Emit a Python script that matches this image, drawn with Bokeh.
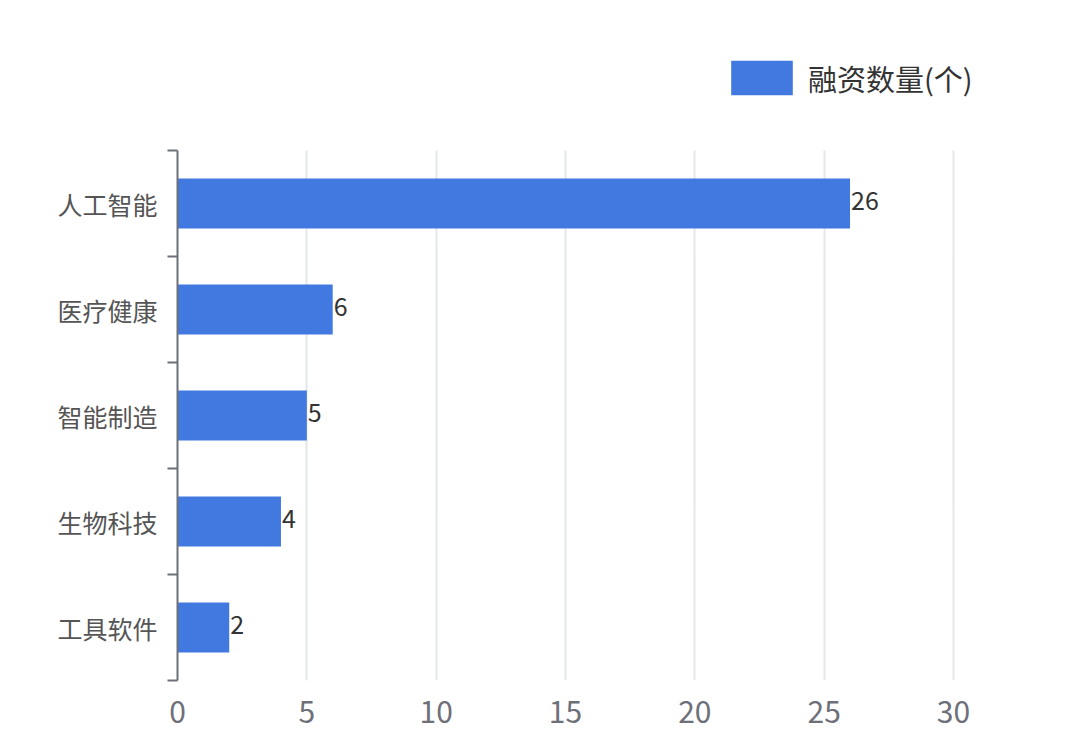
from bokeh.plotting import figure
from bokeh.models import ColumnDataSource, FixedTicker, LabelSet, Legend, LegendItem, Range1d
from bokeh.core.properties import value
from bokeh.embed import file_html
from bokeh.resources import INLINE

categories = ["人工智能", "医疗健康", "智能制造", "生物科技", "工具软件"]
values = [26, 6, 5, 4, 2]
x_ticks = [0, 5, 10, 15, 20, 25, 30]
series_name = "融资数量(个)"

FONT = "Noto Sans CJK SC"
BLUE = "#4279e0"
AXIS = "#6e7079"

n = len(categories)
ypos = [n - 1 - i + 0.5 for i in range(n)]

src = ColumnDataSource(dict(cat=categories, val=values, y=ypos,
                            lab=[str(v) for v in values]))

# frame spans page y 20..680; categories occupy 150..680 (106 px each)
UNIT_Y = 106.0
y_top = 660.0 / UNIT_Y
# frame spans page x 177..1040; values 0..30 occupy 177..953
UNIT_X = 776.0 / 30
x_end = 863.0 / UNIT_X

p = figure(width=1064, height=737, output_backend="svg", toolbar_location=None,
           x_range=Range1d(0, x_end), y_range=Range1d(0, y_top),
           min_border_left=177, min_border_right=24, min_border_top=20,
           min_border_bottom=57)
p.outline_line_color = None
p.background_fill_color = "white"

r = p.hbar(y="y", right="val", left=0, height=0.47, source=src,
           fill_color=BLUE, line_color=None)

labels = LabelSet(x="val", y="y", text="lab", source=src, x_offset=1, y_offset=3,
                  text_align="left", text_baseline="middle",
                  text_font=value(FONT), text_font_size="25px", text_color="#333333")
p.add_layout(labels)

# x axis
p.xaxis.ticker = FixedTicker(ticks=x_ticks)
p.xaxis.axis_line_color = None
p.xaxis.major_tick_line_color = None
p.xaxis.minor_tick_line_color = None
p.xaxis.major_label_text_font = FONT
p.xaxis.major_label_text_font_size = "30px"
p.xaxis.major_label_text_color = AXIS
p.xaxis.major_label_standoff = 14
p.xgrid.ticker = FixedTicker(ticks=x_ticks)
p.xgrid.grid_line_color = "#e3e6ea"
p.xgrid.grid_line_width = 2
p.xgrid.cross_bounds = (0, n)

# y axis: labels at centers, ticks at boundaries
p.ygrid.grid_line_color = None
p.yaxis.bounds = (0, n)
p.yaxis.ticker = FixedTicker(ticks=ypos, minor_ticks=list(range(n + 1)))
p.yaxis.major_label_overrides = {y: c for y, c in zip(ypos, categories)}
p.yaxis.major_tick_line_color = None
p.yaxis.minor_tick_line_color = AXIS
p.yaxis.minor_tick_line_width = 2
p.yaxis.minor_tick_out = 10
p.yaxis.minor_tick_in = 0
p.yaxis.axis_line_color = AXIS
p.yaxis.axis_line_width = 2
p.yaxis.major_label_text_font = FONT
p.yaxis.major_label_text_font_size = "25px"
p.yaxis.major_label_text_color = "#555555"
p.yaxis.major_label_standoff = 10

legend = Legend(items=[LegendItem(label=series_name, renderers=[r])],
                location=(546, 581), orientation="horizontal",
                glyph_width=77, glyph_height=43, label_text_font=FONT,
                label_text_font_size="29px", label_text_color="#333333",
                label_standoff=8, padding=0, margin=0, border_line_color=None,
                background_fill_alpha=0, label_height=40)
p.add_layout(legend, "center")

open("out.html", "w").write(file_html(p, INLINE))
